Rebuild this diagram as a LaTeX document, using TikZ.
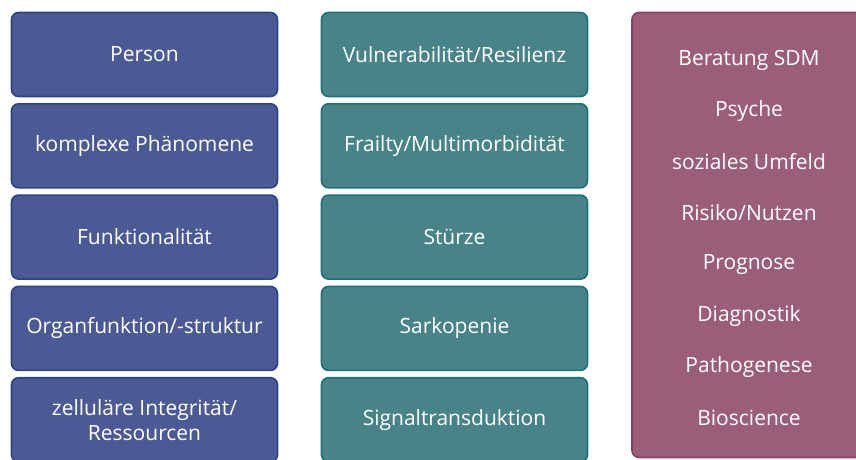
\documentclass[tikz,border=0pt]{standalone}
\usepackage{fontspec}
\setmainfont{Open Sans}
\definecolor{bfill}{HTML}{4B5A94}
\definecolor{bline}{HTML}{2B4485}
\definecolor{tfill}{HTML}{478387}
\definecolor{tline}{HTML}{1B7378}
\definecolor{mfill}{HTML}{9A5E77}
\definecolor{mline}{HTML}{8A4068}
\tikzset{
  boxbase/.style={rounded corners=7pt, line width=1.6pt, minimum width=266pt, minimum height=84pt, text=white, align=center, font=\fontsize{21}{25}\selectfont, inner sep=0pt},
  lbox/.style={boxbase, draw=bline, fill=bfill},
  mbox/.style={boxbase, draw=tline, fill=tfill},
  rtext/.style={text=white, font=\fontsize{21}{25}\selectfont, inner sep=0pt}
}
\begin{document}
\begin{tikzpicture}[x=1pt,y=-1pt]
\useasboundingbox (0,0) rectangle (856,459);
\begin{scope}
\clip (0,0) rectangle (856,459);
\node[lbox] (l1) at (144.5,54.5) {\raisebox{-1.5pt}{Person}};
\node[lbox] (l2) at (144.5,145.8) {\raisebox{-1.5pt}{komplexe Phänomene}};
\node[lbox] (l3) at (144.5,237.1) {\raisebox{-1.5pt}{Funktionalität}};
\node[lbox] (l4) at (144.5,328.4) {\raisebox{-1.5pt}{Organfunktion/-struktur}};
\node[lbox] (l5) at (144.5,419.7) {zelluläre Integrität/\\Ressourcen};
\node[mbox] (m1) at (454.5,54.5) {\raisebox{-1.5pt}{Vulnerabilität/Resilienz}};
\node[mbox] (m2) at (454.5,145.8) {\raisebox{-1.5pt}{Frailty/Multimorbidität}};
\node[mbox] (m3) at (454.5,237.1) {\raisebox{-1.5pt}{Stürze}};
\node[mbox] (m4) at (454.5,328.4) {\raisebox{-1.5pt}{Sarkopenie}};
\node[mbox] (m5) at (454.5,419.7) {\raisebox{-1.5pt}{Signaltransduktion}};
\node[draw=mline, fill=mfill, line width=1.6pt, rounded corners=7pt, minimum width=236pt, minimum height=445pt, inner sep=0pt] (r) at (750,235) {};
\node[rtext] (r1) at (749,60) {Beratung SDM};
\node[rtext] (r2) at (749,111) {Psyche};
\node[rtext] (r3) at (749,162) {soziales Umfeld};
\node[rtext] (r4) at (749,213) {Risiko/Nutzen};
\node[rtext] (r5) at (749,265) {Prognose};
\node[rtext] (r6) at (749,316) {Diagnostik};
\node[rtext] (r7) at (749,367) {Pathogenese};
\node[rtext] (r8) at (749,418) {Bioscience};
\end{scope}
\end{tikzpicture}
\end{document}
